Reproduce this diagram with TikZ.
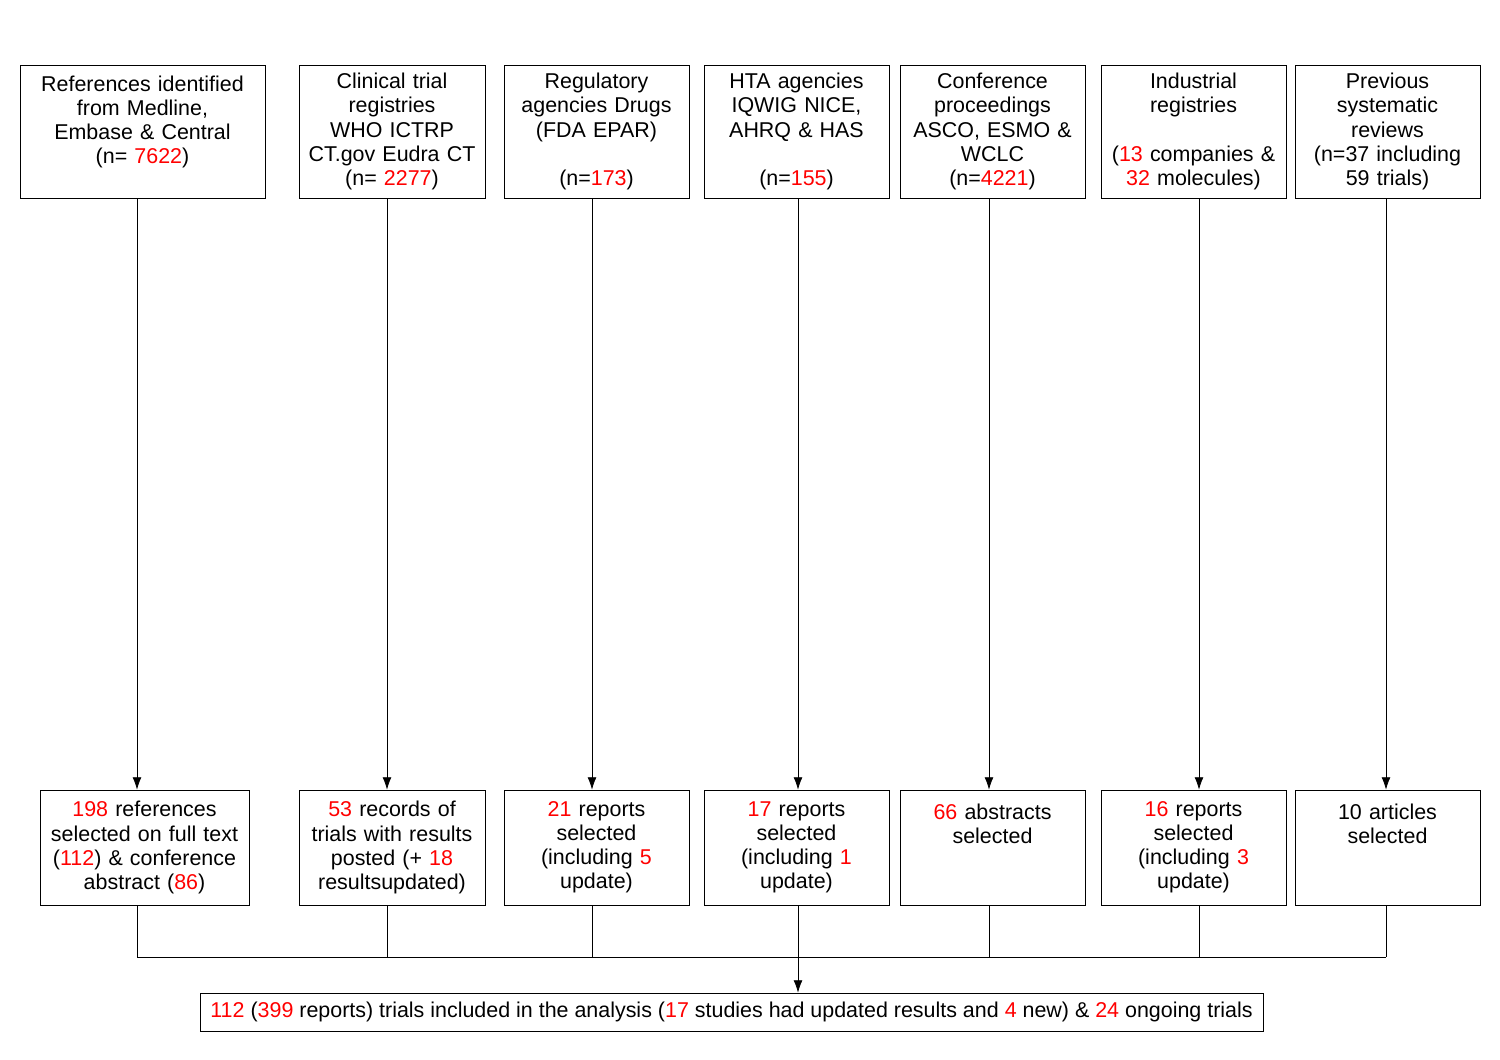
\documentclass[tikz,border=0pt]{standalone}
\usepackage{fontspec}
\setmainfont{Liberation Sans}
\usetikzlibrary{arrows.meta}
\newcommand{\rn}[1]{\textcolor{red}{#1}}
\tikzset{box/.style = {draw, thin, align=center, inner sep=0, font=\fontsize{12.2}{13.7}\selectfont},
  arr/.style = {-{Latex[length=7pt,width=5pt]}, thin}}

\begin{document}
\begin{tikzpicture}[x=0.02cm, y=-0.02cm]
      \useasboundingbox (0,0) rectangle (1500,1060);

      % top row
      \node [box, text width=4.9cm, minimum width=4.9cm, minimum height=2.66cm] (t1) at (142.5,131.5)
        {References identified\\from Medline,\\Embase \& Central\\(n= \rn{7622})\\~};
      \node [box, text width=3.72cm, minimum width=3.72cm, minimum height=2.66cm] (t2) at (392,131.5)
        {Clinical trial\\registries\\WHO ICTRP\\CT.gov Eudra CT\\(n= \rn{2277})};
      \node [box, text width=3.7cm, minimum width=3.7cm, minimum height=2.66cm] (t3) at (596.5,131.5)
        {Regulatory\\agencies Drugs\\(FDA EPAR)\\~\\(n=\rn{173})};
      \node [box, text width=3.7cm, minimum width=3.7cm, minimum height=2.66cm] (t4) at (796.5,131.5)
        {HTA agencies\\IQWIG NICE,\\AHRQ \& HAS\\~\\(n=\rn{155})};
      \node [box, text width=3.7cm, minimum width=3.7cm, minimum height=2.66cm] (t5) at (992.5,131.5)
        {Conference\\proceedings\\ASCO, ESMO \&\\WCLC\\(n=\rn{4221})};
      \node [box, text width=3.7cm, minimum width=3.7cm, minimum height=2.66cm] (t6) at (1193.5,131.5)
        {Industrial\\registries\\~\\(\rn{13} companies \&\\\rn{32} molecules)};
      \node [box, text width=3.7cm, minimum width=3.7cm, minimum height=2.66cm] (t7) at (1387.5,131.5)
        {Previous\\systematic\\reviews\\(n=37 including\\59 trials)};

      % bottom row
      \node [box, text width=4.18cm, minimum width=4.18cm, minimum height=2.3cm] (b1) at (144.5,847.5)
        {\rn{198} references\\selected on full text\\(\rn{112}) \& conference\\abstract (\rn{86})};
      \node [box, text width=3.72cm, minimum width=3.72cm, minimum height=2.3cm] (b2) at (392,847.5)
        {\rn{53} records of\\trials with results\\posted (+ \rn{18}\\resultsupdated)};
      \node [box, text width=3.7cm, minimum width=3.7cm, minimum height=2.3cm] (b3) at (596.5,847.5)
        {\rn{21} reports\\selected\\(including \rn{5}\\update)};
      \node [box, text width=3.7cm, minimum width=3.7cm, minimum height=2.3cm] (b4) at (796.5,847.5)
        {\rn{17} reports\\selected\\(including \rn{1}\\update)};
      \node [box, text width=3.7cm, minimum width=3.7cm, minimum height=2.3cm] (b5) at (992.5,847.5)
        {\rn{66} abstracts\\selected\\~\\~};
      \node [box, text width=3.7cm, minimum width=3.7cm, minimum height=2.3cm] (b6) at (1193.5,847.5)
        {\rn{16} reports\\selected\\(including \rn{3}\\update)};
      \node [box, text width=3.7cm, minimum width=3.7cm, minimum height=2.3cm] (b7) at (1387.5,847.5)
        {10 articles\\selected\\~\\~};

      \node [box, minimum width=21.26cm, minimum height=0.76cm] (res) at (731.5,1012)
        {\rn{112} (\rn{399} reports) trials included in the analysis (\rn{17} studies had updated results and \rn{4} new) \& \rn{24} ongoing trials};

      % arrow columns
      \coordinate (c1) at (137,957);
      \coordinate (c2) at (387,957);
      \coordinate (c3) at (592,957);
      \coordinate (c4) at (798,957);
      \coordinate (c5) at (989,957);
      \coordinate (c6) at (1199,957);
      \coordinate (c7) at (1386,957);

      \foreach \i in {1,...,7} {
        \draw [arr] (t\i.south -| c\i) -- (b\i.north -| c\i);
        \draw (b\i.south -| c\i) -- (c\i);
      }
      \draw (c1) -- (c7);
      \draw [arr] (c4) -- (res.north -| c4);
    \end{tikzpicture}
\end{document}
